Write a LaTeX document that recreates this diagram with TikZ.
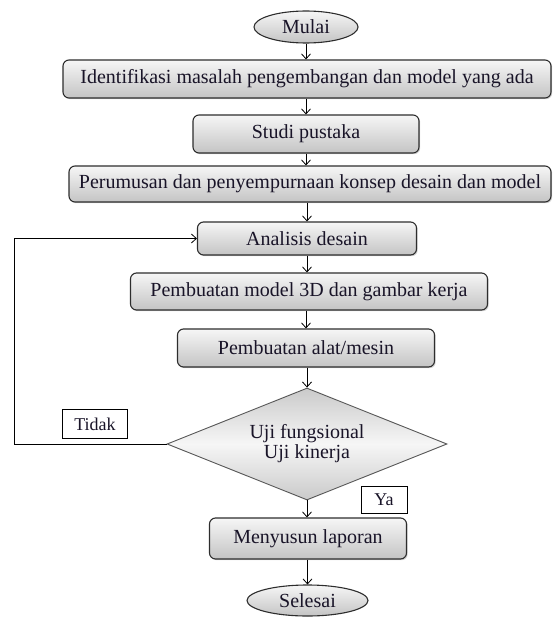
\documentclass[tikz,border=0pt]{standalone}
\usepackage{fontspec}
\setmainfont{Liberation Serif}
\usetikzlibrary{arrows.meta, shapes.geometric, shadows}
\definecolor{boxtop}{RGB}{246,246,246}
\definecolor{boxbottom}{RGB}{196,196,196}
\definecolor{boxline}{RGB}{45,45,45}
\definecolor{txtdark}{RGB}{25,20,40}

\begin{document}
\begin{tikzpicture}[
    x=1pt, y=-1pt,
    >={Straight Barb[length=5pt, width=9pt]},
    stepbox/.style={draw=boxline, line width=1.1pt, rounded corners=6pt, top color=boxtop, bottom color=boxbottom,
        inner sep=0pt, text=txtdark, font=\fontsize{20}{20}\selectfont,
        drop shadow={opacity=0.35, shadow xshift=1.2pt, shadow yshift=-1.2pt}},
    termbox/.style={ellipse, draw=boxline, line width=1.1pt, top color=boxtop, bottom color=boxbottom,
        inner sep=0pt, text=txtdark, font=\fontsize{20}{20}\selectfont},
    checkbox/.style={diamond, draw=boxline!80, line width=0.9pt, aspect=2.5, top color=boxbottom!90, bottom color=boxbottom!90,
        middle color=boxtop, inner sep=0pt, align=center, text=txtdark, font=\fontsize{20}{20}\selectfont},
    tagbox/.style={draw=black, line width=0.9pt, fill=white, inner sep=0pt, text=txtdark, font=\fontsize{18}{18}\selectfont},
]
    \useasboundingbox (0,0) rectangle (553,618);

    % Start
    \node[termbox, minimum width=104pt, minimum height=32pt] (mulai) at (306, 27) {Mulai};

    % Steps
    \node[stepbox, minimum width=488pt, minimum height=38pt] (ident) at (307, 79) {Identifikasi masalah pengembangan dan model yang ada};
    \node[stepbox, minimum width=226pt, minimum height=38pt] (studi) at (306, 134) {Studi pustaka};
    \node[stepbox, minimum width=482pt, minimum height=36pt] (rumus) at (310, 184) {Perumusan dan penyempurnaan konsep desain dan model};
    \node[stepbox, minimum width=219pt, minimum height=33pt] (analisis) at (307, 238.5) {Analisis desain};
    \node[stepbox, minimum width=357pt, minimum height=37pt] (model) at (309, 291.5) {Pembuatan model 3D dan gambar kerja};
    \node[stepbox, minimum width=257pt, minimum height=38pt] (alat) at (306, 348) {Pembuatan alat/mesin};

    % Decision
    \node[checkbox, minimum width=280pt, minimum height=112pt] (uji) at (307, 444) {Uji fungsional\\Uji kinerja};

    % Report and end
    \node[stepbox, minimum width=197pt, minimum height=41pt] (laporan) at (308, 538.5) {Menyusun laporan};
    \node[termbox, minimum width=121pt, minimum height=31pt] (selesai) at (307.5, 600.5) {Selesai};

    % Branch labels
    \node[tagbox, minimum width=65pt, minimum height=29pt] (tidak) at (95, 424) {Tidak};
    \node[tagbox, minimum width=46pt, minimum height=27pt] (ya) at (384, 500) {Ya};

    \draw[->, line width=0.8pt] (mulai) -- (mulai |- ident.north);
    \draw[->, line width=0.8pt] (ident.south -| studi) -- (studi);
    \draw[->, line width=0.8pt] (studi) -- (studi |- rumus.north);
    \draw[->, line width=0.8pt] (rumus.south -| analisis) -- (analisis);
    \draw[->, line width=0.8pt] (analisis) -- (analisis |- model.north);
    \draw[->, line width=0.8pt] (model.south -| alat) -- (alat);
    \draw[->, line width=0.8pt] (alat.south -| uji) -- (uji);
    \draw[->, line width=0.8pt] (uji) -- (uji |- laporan.north);
    \draw[->, line width=0.8pt] (laporan.south -| selesai) -- (selesai);

    % Loop back
    \draw[->, line width=0.8pt] (uji.west) -- ++(-152,0) |- (analisis.west);
\end{tikzpicture}
\end{document}
